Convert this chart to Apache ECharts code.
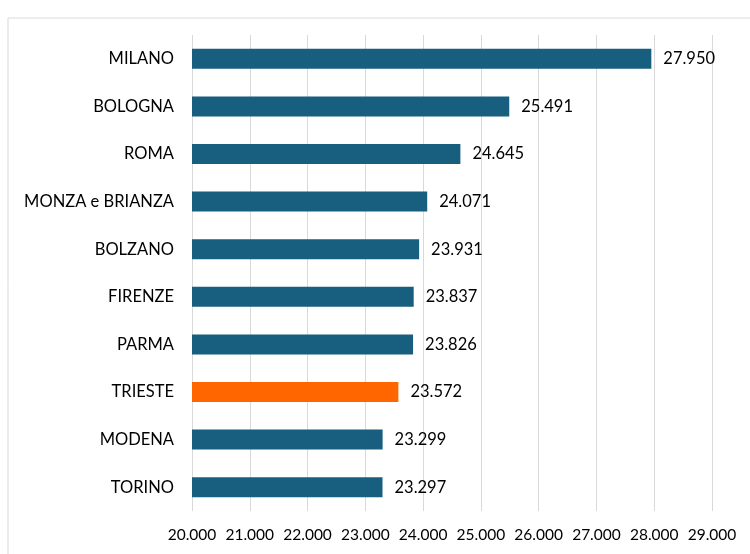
<!DOCTYPE html>
<html>
<head>
<meta charset="utf-8">
<script src="https://cdn.jsdelivr.net/npm/echarts@6/dist/echarts.min.js"></script>
<style>
  html, body { margin: 0; padding: 0; background: #fff; }
  #chart { width: 750px; height: 554px; }
</style>
</head>
<body>
<div id="chart"></div>
<script>
// --- Data (top to bottom as shown) ---
const cities = ['MILANO', 'BOLOGNA', 'ROMA', 'MONZA e BRIANZA', 'BOLZANO',
  'FIRENZE', 'PARMA', 'TRIESTE', 'MODENA', 'TORINO'];
const values = [27950, 25491, 24645, 24071, 23931, 23837, 23826, 23572, 23299, 23297];
const highlight = 'TRIESTE';

const BLUE = '#175e7f';
const ORANGE = '#ff6600';
const FONT = 'Lato';

// Italian thousands separator
function fmt(n) {
  return Math.floor(n / 1000) + '.' + String(n % 1000).padStart(3, '0');
}

const chart = echarts.init(document.getElementById('chart'), null, { renderer: 'canvas' });

// category axis runs bottom-up, so reverse
const cats = cities.slice().reverse();
const barData = values.slice().reverse().map((v, i) => ({
  value: v,
  itemStyle: { color: cats[i] === highlight ? ORANGE : BLUE },
}));

chart.setOption({
  backgroundColor: '#fff',
  animation: false,
  graphic: [{
    type: 'rect',
    shape: { x: 8, y: 18, width: 800, height: 600 },
    style: { fill: 'none', stroke: '#d9d9d9', lineWidth: 1 },
    silent: true,
  }],
  grid: { left: 192, right: 38, top: 35, bottom: 43 },
  xAxis: {
    type: 'value',
    min: 20000,
    max: 29000,
    interval: 1000,
    axisLabel: {
      color: '#000',
      fontFamily: FONT,
      fontSize: 15.5,
      margin: 16,
      formatter: v => fmt(v),
    },
    axisLine: { show: false },
    axisTick: { show: false },
    splitLine: { lineStyle: { color: '#d9d9d9', width: 1 } },
  },
  yAxis: {
    type: 'category',
    data: cats,
    axisLabel: { color: '#000', fontFamily: FONT, fontSize: 16.5, margin: 18 },
    axisLine: { show: false },
    axisTick: { show: false },
  },
  series: [{
    type: 'bar',
    data: barData,
    barWidth: 20,
    label: {
      show: true,
      position: 'right',
      distance: 12,
      color: '#000',
      fontFamily: FONT,
      fontSize: 16.5,
      formatter: p => fmt(p.value),
    },
  }],
});
</script>
</body>
</html>
